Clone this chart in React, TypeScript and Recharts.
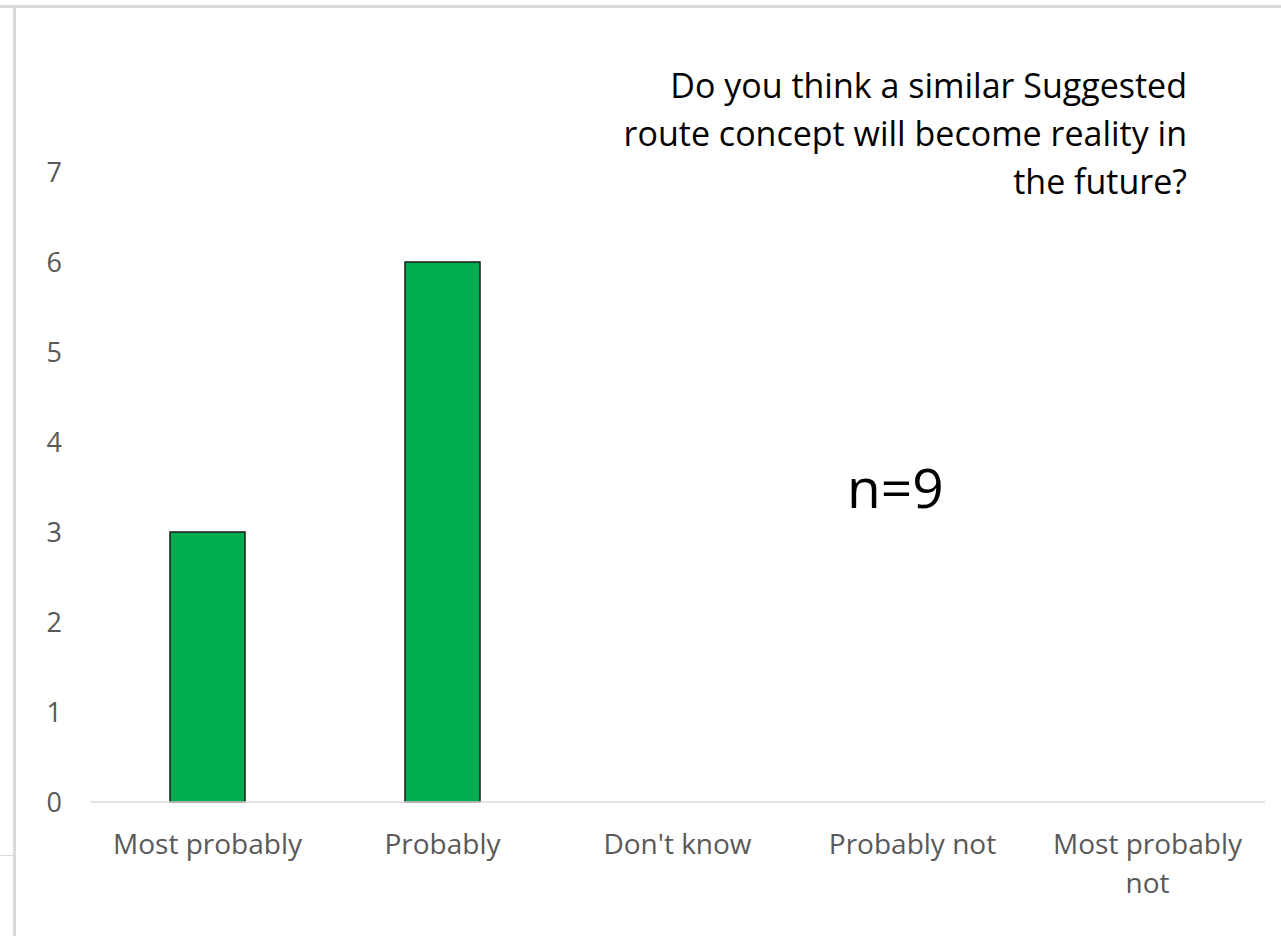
import React from "react";
import { BarChart, Bar, XAxis, YAxis } from "recharts";

const categories = ["Most probably", "Probably", "Don't know", "Probably not", "Most probably not"];
const counts = [3, 6, 0, 0, 0];
const yTicks = [0, 1, 2, 3, 4, 5, 6, 7];
const titleLines = ["Do you think a similar Suggested", "route concept will become reality in", "the future?"];
const annotation = "n=9";

const data = categories.map((c, i) => ({ category: c, count: counts[i] }));

const FONT = "'Open Sans', Lato, sans-serif";

const wrapLabel = (s: string): string[] => {
  if (s === "Most probably not") return ["Most probably", "not"];
  return [s];
};

const XTick = (props: any) => {
  const { x, payload } = props;
  const lines = wrapLabel(String(payload.value));
  return (
    <g>
      {lines.map((l, i) => (
        <text
          key={i}
          x={x}
          y={854 + i * 39}
          textAnchor="middle"
          fill="#595959"
          fontSize={28}
          fontFamily={FONT}
        >
          {l}
        </text>
      ))}
    </g>
  );
};

const YTick = (props: any) => {
  const { y, payload } = props;
  return (
    <text x={62} y={y + 10} textAnchor="end" fill="#595959" fontSize={27} fontFamily={FONT}>
      {payload.value}
    </text>
  );
};

export default function App() {
  return (
    <div style={{ position: "absolute", left: 0, top: 0, width: 1281, height: 936, background: "#fff", overflow: "hidden" }}>
      <div style={{ position: "absolute", left: 0, top: 5, width: 1281, height: 3, background: "#d9d9d9" }} />
      <div style={{ position: "absolute", left: 13, top: 5, width: 3, height: 931, background: "#d9d9d9" }} />
      <div style={{ position: "absolute", left: 0, top: 855, width: 14, height: 1, background: "#d9d9d9" }} />
      <div style={{ position: "absolute", left: 0, top: 0 }}>
        <BarChart width={1281} height={936} data={data} margin={{ top: 172, right: 16, bottom: 104, left: 0 }}>
          <XAxis
            dataKey="category"
            height={30}
            axisLine={{ stroke: "#d9d9d9", strokeWidth: 1.5 }}
            tickLine={false}
            tick={<XTick />}
            interval={0}
          />
          <YAxis
            width={90}
            domain={[0, 7]}
            ticks={yTicks}
            axisLine={false}
            tickLine={false}
            tick={<YTick />}
            interval={0}
          />
          <Bar dataKey="count" fill="#00ad4e" stroke="#1a1a1a" strokeWidth={1.5} barSize={75} isAnimationActive={false} />
        </BarChart>
      </div>
      <svg style={{ position: "absolute", left: 0, top: 0 }} width={1281} height={936}>
        {titleLines.map((l, i) => (
          <text key={i} x={1187} y={98 + i * 48} textAnchor="end" fontSize={34} fill="#000" fontFamily={FONT}>
            {l}
          </text>
        ))}
        <text x={847} y={508} fontSize={55} fill="#000" fontFamily={FONT}>
          {annotation}
        </text>
      </svg>
    </div>
  );
}
